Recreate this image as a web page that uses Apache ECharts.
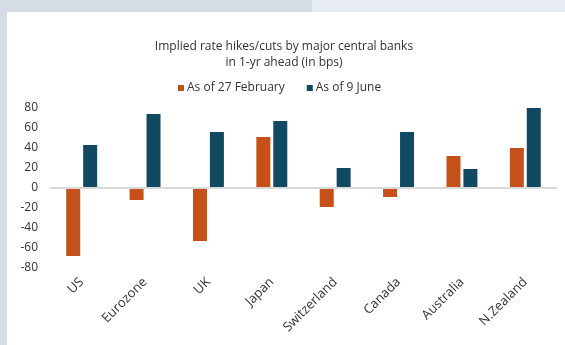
<!DOCTYPE html>
<html>
<head>
<meta charset="utf-8">
<script src="https://cdn.jsdelivr.net/npm/echarts@6/dist/echarts.min.js"></script>
<style>
  html, body { margin: 0; padding: 0; width: 565px; height: 345px; overflow: hidden; background: #d5dce4; }
  .topright { position: absolute; left: 312px; top: 0; width: 253px; height: 12px; background: #e7ecf4; }
  #chart { position: absolute; left: 7px; top: 12px; width: 558px; height: 333px; background: #ffffff; }
</style>
</head>
<body>
<div class="topright"></div>
<div id="chart"></div>
<script>
// 数据
var categories = ["US", "Eurozone", "UK", "Japan", "Switzerland", "Canada", "Australia", "N.Zealand"];
var febData = [-68, -12, -53, 51, -19, -9, 32, 40];
var juneData = [43, 74, 56, 67, 20, 56, 19, 80];
var yTicks = [-80, -60, -40, -20, 0, 20, 40, 60, 80];

var font = "'Open Sans', Lato, sans-serif";
var chart = echarts.init(document.getElementById("chart"));
chart.setOption({
  animation: false,
  textStyle: { fontFamily: font },
  title: {
    text: "Implied rate hikes/cuts by major central banks\nin 1-yr ahead (in bps)",
    left: 272, top: 22, textAlign: "center",
    textStyle: { fontSize: 12, fontWeight: "normal", color: "#333333", lineHeight: 16, fontFamily: font }
  },
  legend: {
    top: 65, left: 166,
    itemWidth: 6, itemHeight: 6, itemGap: 22,
    icon: "rect",
    textStyle: { fontSize: 12, color: "#333333", fontFamily: font, padding: [0, 0, 0, -2] },
    data: ["As of 27 February", "As of 9 June"]
  },
  grid: { left: 43, right: 8, top: 96, bottom: 77 },
  xAxis: {
    type: "category",
    data: categories,
    axisLine: { show: false },
    axisTick: { show: false },
    axisLabel: { rotate: 45, interval: 0, fontSize: 13, color: "#333333", margin: 12, fontFamily: font }
  },
  yAxis: {
    type: "value",
    min: yTicks[0], max: yTicks[yTicks.length - 1], interval: 20,
    axisLine: { show: false },
    axisTick: { show: false },
    splitLine: { show: false },
    axisLabel: { fontSize: 12, color: "#333333", margin: 12, fontFamily: font }
  },
  series: [
    {
      name: "As of 27 February", type: "bar", data: febData,
      barWidth: 14, barGap: "21%",
      itemStyle: { color: "#c4511a" },
      markLine: {
        silent: true, symbol: "none", label: { show: false },
        lineStyle: { color: "#d9d9d9", width: 2, type: "solid" },
        data: [{ yAxis: 0 }]
      }
    },
    {
      name: "As of 9 June", type: "bar", data: juneData,
      barWidth: 14,
      itemStyle: { color: "#124962" }
    }
  ]
});
</script>
</body>
</html>
